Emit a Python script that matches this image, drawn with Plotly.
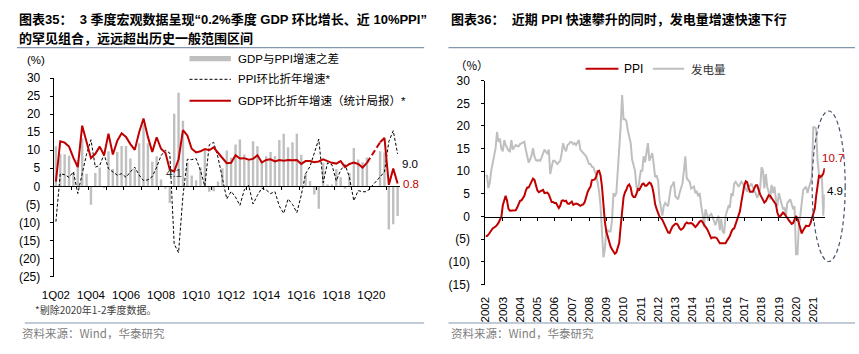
import plotly.graph_objects as go
import pandas as pd

W, H = 859, 354
FONT = "Liberation Sans, Arial, Noto Sans CJK SC, sans-serif"
CJK = "Noto Sans CJK SC, Liberation Sans, sans-serif"
RED = "#c00000"
GRAY = "#bfbfbf"
RULE = "#8497b0"

# ---------------- Left panel data (quarterly, annualised q/q, %) ----------------
quarters = [f"{q}Q{y % 100:02d}" for y in range(2002, 2022) for q in range(1, 5)][:79]
quarter_ticks = quarters[::8]

gdp_qoq_ann = [1.3, 12.5, 12.1, 11.0, 7.9, 5.3, 16.8, 12.4, 7.8, 9.0,
               11.0, 8.6, 14.6, 8.8, 12.6, 14.7, 13.7, 11.7, 10.1, 15.0,
               18.8, 13.7, 9.5, 13.6, 10.4, 9.3, 4.6, 4.1, 7.5, 15.6,
               14.1, 10.4, 9.4, 9.7, 10.3, 10.0, 10.8, 9.3, 7.7, 6.4,
               6.5, 8.6, 7.7, 7.8, 7.4, 7.6, 8.6, 6.6, 7.3, 7.5,
               6.9, 7.3, 7.1, 7.3, 7.2, 7.3, 6.2, 7.0, 7.0, 6.7,
               6.9, 7.5, 7.0, 6.5, 6.3, 7.0, 5.3, 6.2, 6.6, 6.2,
               5.2, 6.5, None, None, 12.2, 13.4, 0.4, 4.9, 0.8]

ppi_qoq_ann = [-9.8, 3.5, 3.2, 2.5, 4.0, -2.0, 3.5, 8.9, 12.9, 5.3,
               5.8, 8.9, 4.9, 4.0, 3.1, 3.5, 2.5, 4.0, 5.3, 3.1,
               1.6, 1.8, 2.7, 5.3, 8.5, 10.0, 9.2, -16.0, -18.4, -2.6,
               7.5, 7.4, 7.7, 4.4, 0.0, 11.5, 12.2, 8.0, 2.7, -3.5,
               -1.4, -3.0, -5.3, -1.0, 0.3, -4.9, -2.5, -0.5, -1.0, -2.0,
               -1.5, -5.5, -7.5, -3.5, -5.0, -7.3, -2.5, 3.5, 5.5, 9.0,
               13.1, 1.0, 6.5, 6.0, 1.5, 4.5, 6.0, 2.5, -4.0, -1.2,
               -1.5, -1.5, None, None, 2.5, 4.0, 12.4, 15.4, 9.0]

gdp_minus_ppi = [11.1, 9.0, 8.9, 8.5, 3.9, 7.3, 13.3, 3.5, -5.1, 3.7,
                 5.2, -0.3, 9.7, 4.8, 9.5, 11.2, 11.2, 7.7, 4.8, 11.9,
                 17.2, 11.9, 6.8, 8.3, 1.9, -0.7, -4.6, 20.1, 25.9, 18.2,
                 6.6, 3.0, 1.7, 5.3, 10.3, -1.5, -1.4, 1.3, 5.0, 9.9,
                 7.9, 11.6, 13.0, 8.8, 7.1, 12.5, 11.1, 7.1, 8.3, 9.5,
                 8.4, 12.8, 14.6, 10.8, 12.2, 14.6, 8.7, 3.5, 1.5, -2.3,
                 -6.2, 6.5, 0.5, 0.5, 4.8, 2.5, -0.7, 3.7, 10.6, 7.4,
                 6.7, 8.0, None, None, 9.7, 9.4, -12.0, -10.5, -8.2]

# ---------------- Right panel data (monthly y/y, %) ----------------
months = pd.date_range("2002-01-01", "2021-09-01", freq="MS")
year_labels = [str(y) for y in range(2002, 2022)]
year_ticks = [f"{y}-01-01" for y in range(2002, 2022)]

ppi_yoy = [
    -4.3, -4.3, -4.0, -3.5, -3.0, -2.6, -2.4, -2.2, -1.8, -1.4, -0.7, -0.1,
    2.5, 3.8, 4.6, 3.5, 1.7, 1.3, 1.3, 1.3, 1.3, 1.4, 2.0, 3.0,
    3.5, 3.6, 4.0, 4.6, 5.7, 6.4, 6.4, 7.1, 7.9, 8.4, 8.1, 7.1,
    5.8, 5.4, 5.6, 5.8, 5.9, 5.2, 5.2, 5.3, 4.9, 4.0, 3.2, 3.2,
    3.0, 3.0, 2.5, 1.9, 2.4, 3.5, 3.6, 3.4, 3.5, 2.9, 2.8, 3.1,
    3.3, 2.6, 2.7, 2.9, 2.8, 2.5, 2.4, 2.6, 2.7, 3.2, 4.6, 5.4,
    6.1, 6.6, 8.0, 8.1, 8.2, 8.8, 10.0, 10.1, 9.1, 6.6, 2.0, -1.1,
    -3.3, -4.5, -6.0, -6.6, -7.2, -7.8, -8.2, -7.9, -7.0, -5.8, -2.1, 1.7,
    4.3, 5.4, 5.9, 6.8, 7.1, 6.4, 4.8, 4.3, 4.3, 5.0, 6.1, 5.9,
    6.6, 7.2, 7.3, 6.8, 6.8, 7.1, 7.5, 7.3, 6.5, 5.0, 2.7, 1.7,
    0.7, 0.0, -0.3, -0.7, -1.4, -2.1, -2.9, -3.5, -3.6, -2.8, -2.2, -1.9,
    -1.6, -1.6, -1.9, -2.6, -2.9, -2.7, -2.3, -1.6, -1.3, -1.5, -1.4, -1.4,
    -1.6, -2.0, -2.3, -2.0, -1.4, -1.1, -0.9, -1.2, -1.8, -2.2, -2.7, -3.3,
    -4.3, -4.8, -4.6, -4.6, -4.6, -4.8, -5.4, -5.9, -5.9, -5.9, -5.9, -5.9,
    -5.3, -4.9, -4.3, -3.4, -2.8, -2.6, -1.7, -0.8, 0.1, 1.2, 3.3, 5.5,
    6.9, 7.8, 7.6, 6.4, 5.5, 5.5, 5.5, 6.3, 6.9, 6.9, 5.8, 4.9,
    4.3, 3.7, 3.1, 3.4, 4.1, 4.7, 4.6, 4.1, 3.6, 3.3, 2.7, 0.9,
    0.1, 0.1, 0.4, 0.9, 0.6, 0.0, -0.3, -0.8, -1.2, -1.6, -1.4, -0.5,
    0.1, -0.4, -1.5, -3.1, -3.7, -3.0, -2.4, -2.0, -2.1, -2.1, -1.5, -0.4,
    0.3, 1.7, 4.4, 6.8, 9.0, 8.8, 9.0, 9.5, 10.7,
]

power_yoy = [
    9.0, 9.0, 6.3, 7.5, 10.1, 12.0, 13.0, 15.1, 18.7, 16.5, 17.2, 15.0,
    14.4, 16.9, 15.8, 15.0, 14.6, 14.4, 16.9, 14.8, 15.4, 15.8, 15.6, 15.5,
    16.0, 16.2, 16.3, 16.5, 14.8, 13.2, 11.9, 12.6, 13.5, 15.1, 13.3, 12.5,
    12.3, 12.5, 12.3, 13.0, 14.0, 14.8, 14.3, 14.0, 14.8, 9.4, 11.0, 12.3,
    12.3, 11.8, 11.6, 12.0, 12.3, 14.0, 16.2, 15.0, 14.4, 15.8, 16.0, 16.5,
    16.4, 16.0, 16.2, 15.8, 16.5, 16.9, 14.8, 14.5, 14.0, 13.7, 13.3, 12.5,
    11.6, 11.6, 11.0, 10.9, 10.0, 9.1, 7.5, 5.5, 2.3, -4.0, -9.0, -7.2,
    -3.0, -3.0, -3.3, -3.3, -0.9, 5.2, 4.5, 5.2, 10.1, 13.7, 20.0, 26.8,
    21.5, 21.5, 21.1, 19.0, 17.2, 16.2, 12.6, 11.0, 10.1, 6.6, 5.5, 8.0,
    10.1, 10.1, 13.3, 12.0, 14.0, 16.2, 12.3, 13.2, 14.0, 11.6, 8.7, 9.1,
    8.0, 3.8, 2.3, 0.2, 2.3, 3.0, 2.6, 2.3, 4.5, 6.6, 7.0, 7.7,
    4.5, 4.2, 3.8, 5.2, 6.3, 7.3, 10.1, 13.3, 8.4, 8.0, 7.7, 6.2,
    6.4, 6.6, 5.2, 5.5, 4.5, 5.2, 2.5, 0.6, -2.3, 1.6, 0.6, -0.9,
    0.3, 0.6, -0.1, -1.2, -1.9, -0.8, 0.2, -3.0, -0.5, -3.3, -3.7, 0.2,
    1.5, 2.3, 2.0, 5.2, 4.5, 7.3, 7.7, 7.0, 6.6, 7.2, 7.7, 7.3,
    6.8, 6.2, 5.5, 6.5, 6.8, 7.3, 6.5, 5.9, 5.0, 4.1, 5.0, 6.0,
    10.9, 10.1, 6.2, 9.4, 6.6, 5.5, 3.8, 7.0, 5.2, 6.6, 3.8, 2.3,
    5.2, 4.0, 3.0, 1.6, 2.0, 0.2, 3.0, 3.4, 3.8, 2.8, 1.6, 2.3,
    -8.3, -8.3, -1.9, 0.2, 3.0, 5.9, 6.3, 6.6, 5.2, 6.6, 7.6, 8.7,
    19.7, 19.7, 19.4, 12.3, 9.4, 8.7, 9.1, 0.2, 4.9,
]

L_TICKS = list(range(-25, 31, 5))
R_TICKS = list(range(-15, 31, 5))


def paren(v):
    return f"({abs(v)})" if v < 0 else str(v)


def px(x):
    return x / W


def py(y):
    return 1 - y / H


# panel geometry in page pixels
L_X = (42.3, 393.3)
L_Y = (280.6, 74.0)
L_RANGE = (-25, 30)
R_X = (480.0, 824.3)
R_Y = (289.0, 76.7)
R_RANGE = (-15, 30)
R_XRANGE = ["2001-12-26", "2021-09-01"]


def zero_pos(ybounds, rng):
    b, t = py(ybounds[0]), py(ybounds[1])
    return b + (0 - rng[0]) / (rng[1] - rng[0]) * (t - b)


fig = go.Figure()

# ---- left panel traces ----
fig.add_trace(go.Bar(x=quarters, y=gdp_minus_ppi, marker=dict(color=GRAY, line_width=0),
                     width=0.55, xaxis="x", yaxis="y"))
fig.add_trace(go.Scatter(x=quarters, y=ppi_qoq_ann, mode="lines", connectgaps=True,
                         line=dict(color="black", width=1, dash="3px,2px"), xaxis="x", yaxis="y"))
fig.add_trace(go.Scatter(x=quarters, y=gdp_qoq_ann, mode="lines",
                         line=dict(color=RED, width=2), xaxis="x", yaxis="y"))
gap = [i for i, v in enumerate(gdp_qoq_ann) if v is None]
g0, g1 = gap[0] - 1, gap[-1] + 1
fig.add_trace(go.Scatter(x=[quarters[g0], quarters[g1]], y=[gdp_qoq_ann[g0], gdp_qoq_ann[g1]],
                         mode="lines", line=dict(color=RED, width=2, dash="6px,3px"),
                         xaxis="x", yaxis="y"))
fig.add_trace(go.Scatter(x=[0], y=[0], mode="markers", marker=dict(opacity=0),
                         hoverinfo="skip", xaxis="x3", yaxis="y"))

# ---- right panel traces ----
fig.add_trace(go.Scatter(x=months, y=power_yoy, mode="lines",
                         line=dict(color=GRAY, width=2), xaxis="x2", yaxis="y2"))
fig.add_trace(go.Scatter(x=months, y=ppi_yoy, mode="lines",
                         line=dict(color=RED, width=2), xaxis="x2", yaxis="y2"))
fig.add_trace(go.Scatter(x=[months[0]], y=[0], mode="markers", marker=dict(opacity=0),
                         hoverinfo="skip", xaxis="x4", yaxis="y2"))

tickfont = dict(family=FONT, size=12, color="black")

fig.update_layout(
    width=W, height=H, autosize=False,
    margin=dict(l=0, r=0, t=0, b=0, pad=0),
    paper_bgcolor="white", plot_bgcolor="rgba(0,0,0,0)",
    showlegend=False, hovermode=False,
    font=dict(family=FONT, size=12, color="black"),
    xaxis=dict(domain=[px(L_X[0]), px(L_X[1])], anchor="y", type="category",
               range=[-0.5, len(quarters) - 0.5], tickvals=quarter_ticks, ticktext=quarter_ticks,
               showline=False, ticks="", showgrid=False, zeroline=False,
               tickfont=dict(family=FONT, size=11.5, color="black"), ticklabelstandoff=10),
    yaxis=dict(domain=[py(L_Y[0]), py(L_Y[1])], anchor="x", range=list(L_RANGE),
               tickvals=L_TICKS, ticktext=[paren(v) for v in L_TICKS],
               showline=True, linecolor="black", linewidth=1, ticks="outside", ticklen=3,
               tickcolor="black", showgrid=False, zeroline=False, tickfont=tickfont,
               ticklabelstandoff=7),
    xaxis3=dict(overlaying="x", anchor="free", position=zero_pos(L_Y, L_RANGE),
                type="linear", range=[-0.5, len(quarters) - 0.5],
                tickvals=[i - 0.5 for i in range(4, len(quarters), 4)],
                showticklabels=False, ticks="outside", ticklen=3, tickcolor="black",
                showline=True, linecolor="black", linewidth=1, showgrid=False, zeroline=False),
    xaxis2=dict(domain=[px(R_X[0]), px(R_X[1])], anchor="y2", type="date",
                range=R_XRANGE, tickvals=year_ticks, ticktext=year_labels, tickangle=-90,
                showline=False, ticks="", showgrid=False, zeroline=False,
                tickfont=dict(family=FONT, size=11.5, color="black"), ticklabelstandoff=9),
    yaxis2=dict(domain=[py(R_Y[0]), py(R_Y[1])], anchor="x2", range=list(R_RANGE),
                tickvals=R_TICKS, ticktext=[paren(v) for v in R_TICKS],
                showline=True, linecolor="black", linewidth=1, ticks="outside", ticklen=3,
                tickcolor="black", showgrid=False, zeroline=False, tickfont=tickfont,
                ticklabelstandoff=9),
    xaxis4=dict(overlaying="x2", anchor="free", position=zero_pos(R_Y, R_RANGE),
                type="date", range=R_XRANGE, tickvals=year_ticks[1:],
                showticklabels=False, ticks="outside", ticklen=3, tickcolor="black",
                showline=True, linecolor="black", linewidth=1, showgrid=False, zeroline=False),
)

shapes = []


def hline(x0, x1, y, color, width=1, dash=None):
    d = dict(type="line", xref="paper", yref="paper", x0=px(x0), x1=px(x1), y0=py(y), y1=py(y),
             line=dict(color=color, width=width))
    if dash:
        d["line"]["dash"] = dash
    shapes.append(d)


# title / footer rules
hline(5, 418, 42.3, RULE, 1.2)
hline(442.7, 855, 42.3, RULE, 1.2)
hline(13, 418, 329, RULE, 1)
hline(442.7, 855, 329, RULE, 1)
# left legend swatches
shapes.append(dict(type="rect", xref="paper", yref="paper", x0=px(180), x1=px(222),
                   y0=py(56.5), y1=py(51), fillcolor=GRAY, line=dict(width=0)))
hline(180, 222, 75.3, "black", 1, "3px,2px")
hline(180, 222, 97.7, RED, 2)
# right legend swatches
hline(581.7, 615, 64.3, RED, 2)
hline(650, 681.7, 64.3, GRAY, 2)
# dashed ellipse highlighting the 2021 surge
shapes.append(dict(type="circle", xref="paper", yref="paper", x0=px(811.5), x1=px(845),
                   y0=py(265), y1=py(108.3), line=dict(color="#44546a", width=1.2, dash="4px,3px")))

ann = []


def text(x, y, s, size=12, color="black", xanchor="left", family=FONT):
    ann.append(dict(x=px(x), y=py(y), xref="paper", yref="paper", text=s, showarrow=False,
                    xanchor=xanchor, yanchor="middle", font=dict(family=family, size=size, color=color)))


text(5, 13.3, "<b>图表35：\u00a0\u00a03 季度宏观数据呈现“0.2%季度 GDP 环比增长、近 10%PPI”</b>", 13)
text(5, 33.3, "<b>的罕见组合，远远超出历史一般范围区间</b>", 13)
text(443.3, 13.3, "<b>图表36：\u00a0\u00a0近期 PPI 快速攀升的同时，发电量增速快速下行</b>", 13)

text(24.5, 55.7, "(%)", 11.5, xanchor="center")
text(467, 60, "（%）", 11.5, xanchor="center", family=CJK)

text(226.7, 54, "GDP与PPI增速之差", 11.5)
text(226.7, 74.8, "PPI环比折年增速*", 11.5)
text(226.7, 97.5, "GDP环比折年增速（统计局报）*", 11.5)
text(618.5, 64.5, "PPI", 12)
text(686.7, 64.5, "发电量", 11.5, "#333333", family=CJK)

text(21.7, 315, "*剔除2020年1-2季度数据。", 10, "#404040", family=CJK)
text(8, 339.3, "资料来源：Wind，华泰研究", 11.5, "#808080", family=CJK)
text(443, 339.3, "资料来源：Wind，华泰研究", 11.5, "#808080", family=CJK)

# data labels anchored to series values
ann.append(dict(x=quarters[27], y=gdp_qoq_ann[27], xref="x", yref="y", text=f"{gdp_qoq_ann[27]:.1f}",
                showarrow=False, xanchor="center", yanchor="middle", yshift=-1,
                font=dict(family=FONT, size=11.5, color="#333333")))
ann.append(dict(x=quarters[-1], y=ppi_qoq_ann[-1], xref="x", yref="y", text=f"{ppi_qoq_ann[-1]:.1f}",
                showarrow=False, xanchor="left", yanchor="middle", xshift=2, yshift=-10,
                font=dict(family=FONT, size=11.5, color="black")))
ann.append(dict(x=quarters[-1], y=gdp_qoq_ann[-1], xref="x", yref="y", text=f"{gdp_qoq_ann[-1]:.1f}",
                showarrow=False, xanchor="left", yanchor="middle", xshift=3, yshift=-1,
                font=dict(family=FONT, size=11.5, color=RED)))
ann.append(dict(x=months[-1], y=ppi_yoy[-1], xref="x2", yref="y2", text=f"{ppi_yoy[-1]:.1f}",
                showarrow=False, xanchor="left", yanchor="middle", xshift=-5, yshift=10,
                font=dict(family=FONT, size=11.5, color=RED)))
ann.append(dict(x=months[-1], y=power_yoy[-1], xref="x2", yref="y2", text=f"{power_yoy[-1]:.1f}",
                showarrow=False, xanchor="left", yanchor="middle", xshift=0, yshift=3,
                font=dict(family=FONT, size=11.5, color="black")))

fig.update_layout(shapes=shapes, annotations=ann)
fig.write_html("out.html")
